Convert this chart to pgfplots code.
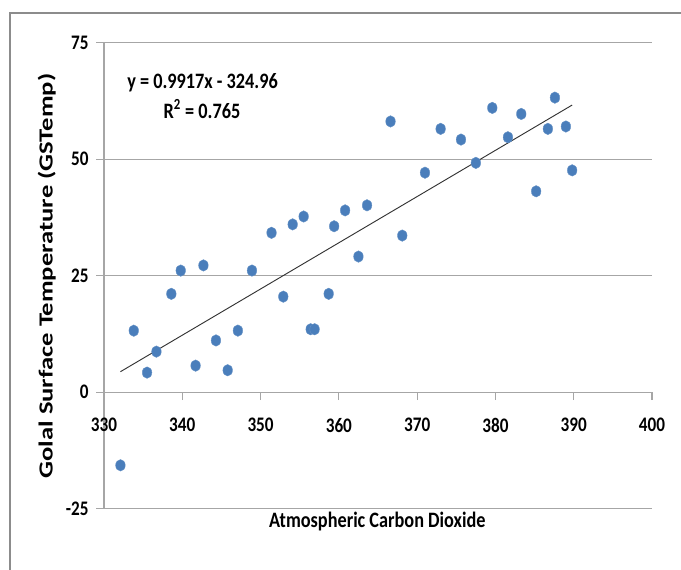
\documentclass[border=0pt]{standalone}
\usepackage{pgfplots}
\pgfplotsset{compat=1.18}
\usepackage{fontspec}
\setmainfont{Carlito}[FakeStretch=0.83]
\newfontfamily\ylabfont{Carlito}[FakeStretch=1.33]
\newcommand\tickfont{\bfseries\fontsize{15.5}{15.5}\selectfont}
\definecolor{dotblue}{HTML}{4A7EBB}
\definecolor{axgray}{HTML}{A6A6A6}
\definecolor{framegray}{HTML}{8C8C8C}

\begin{document}
\begin{tikzpicture}
\clip (0,0) rectangle (510.75pt,427.5pt);
\draw[framegray, line width=1.5pt] (7.5pt,-20pt) -- (7.5pt,417.75pt) -- (540pt,417.75pt);
\begin{axis}[
  at={(78pt,46pt)}, anchor=south west,
  scale only axis, width=411pt, height=349.5pt,
  xmin=330, xmax=400, ymin=-25, ymax=75,
  xtick={330,340,...,400}, ytick={-25,0,25,50,75},
  axis x line*=middle, axis y line*=left,
  hide obscured x ticks=false, hide obscured y ticks=false,
  axis line style={axgray, line width=0.9pt},
  tick align=outside, major tick length=6pt,
  tick style={axgray, line width=0.9pt},
  ymajorgrids, grid style={axgray, line width=0.9pt},
  xticklabel={\pgfmathtruncatemacro\tk{round(\tick)}\tickfont\tk},
  yticklabel={\pgfmathtruncatemacro\tk{round(\tick)}\tickfont\tk},
  xticklabel style={yshift=-10pt},
  yticklabel style={xshift=-2pt},
  clip=false,
]
\addplot[only marks, mark=*, mark size=3.6pt, mark options={yscale=1.2, fill=dotblue, draw=dotblue!85!white, line width=0.3pt}]
coordinates {
(332.1,-15.7)(333.8,13.2)(335.5,4.2)(336.7,8.7)(338.6,21.1)(339.8,26.1)
(341.7,5.7)(342.7,27.2)(344.3,11.1)(345.8,4.7)(347.1,13.2)(348.9,26.1)
(351.4,34.2)(352.9,20.5)(354.1,36.0)(355.5,37.7)(356.4,13.5)(356.9,13.5)
(358.7,21.1)(359.4,35.6)(360.8,39.0)(362.5,29.1)(363.6,40.1)(366.6,58.1)
(368.1,33.6)(371.0,47.1)(373.0,56.5)(375.6,54.2)(377.5,49.2)(379.6,61.0)
(381.6,54.7)(383.3,59.7)(385.2,43.1)(386.7,56.5)(387.6,63.2)(389.0,57.0)
(389.8,47.6)
};
\addplot[black!80, line width=0.7pt] coordinates {(332.1,4.39)(389.8,61.61)};
\end{axis}
\node[anchor=base, font=\bfseries\fontsize{16.5}{16.5}\selectfont] at (283pt,31.5pt) {Atmospheric Carbon Dioxide};
\node[anchor=base, rotate=90, font=\ylabfont\bfseries\fontsize{15}{15}\selectfont] at (39.5pt,220.5pt) {Golal Surface Temperature (GSTemp)};
\node[anchor=base, font=\bfseries\fontsize{16.5}{16.5}\selectfont] at (151.9pt,361.3pt) {y = 0.9917x - 324.96};
\node[anchor=base, font=\bfseries\fontsize{16.5}{16.5}\selectfont] at (151.5pt,338.8pt) {R\textsuperscript{2} = 0.765};
\end{tikzpicture}
\end{document}
